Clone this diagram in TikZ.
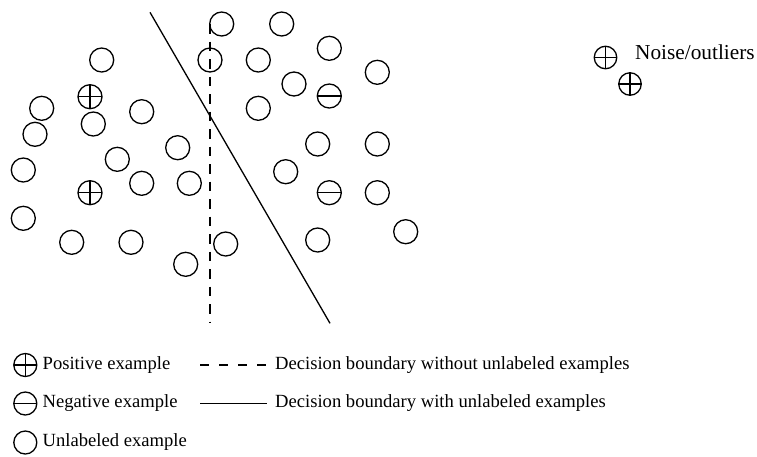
\documentclass[tikz,border=0pt]{standalone}
\usepackage{fontspec}
\setmainfont{Liberation Serif}
\begin{document}
\begin{tikzpicture}[x=1pt,y=-1pt,
  pt/.style={circle,draw,line width=1.3pt,minimum size=24pt,inner sep=0pt,outer sep=0pt},
  lg/.style={pt,minimum size=23pt},
  nz/.style={pt,minimum size=22.5pt},
  plusmark/.style={path picture={\draw[line width=1.3pt] (path picture bounding box.north)--(path picture bounding box.south) (path picture bounding box.west)--(path picture bounding box.east);}},
  minusmark/.style={path picture={\draw[line width=1.3pt] (path picture bounding box.west)--(path picture bounding box.east);}},
  lbl/.style={anchor=west,inner sep=0pt,font=\fontsize{18.6}{22}\selectfont},
  bnd/.style={line width=1.3pt},
  dbnd/.style={line width=1.3pt,dash pattern=on 9.5pt off 8pt},
  ldbnd/.style={line width=1.3pt,dash pattern=on 9pt off 10pt}]
\useasboundingbox (0,0) rectangle (757,456);
% unlabeled examples
\foreach [count=\i] \p in {(101.7,60),(41.7,108.3),(93.3,124),(141.7,111.7),(35,134.3),(177.7,147.7),(117.3,159.3),(23.3,170),(141.7,183.3),(189.3,183.3),(23.3,218.3),(71.7,242.3),(131,242.3),(185.7,264.3),(221.7,24),(281.7,24),(329.3,48.3),(210,60),(258.3,60),(377.3,72.3),(294,84),(258.3,108.3),(317.7,144),(377.3,144),(285.7,171.7),(377.3,192.7),(405.7,231.7),(317.7,240),(225.7,244)}
  \node[pt] (u\i) at \p {};
% positive examples
\node[pt,plusmark] (p1) at (90,96.7) {};
\node[pt,plusmark] (p2) at (90,192.7) {};
% negative examples
\node[pt,minusmark] (n1) at (329.3,96) {};
\node[pt,minusmark] (n2) at (329.3,192.7) {};
% noise
\node[nz,plusmark] (o1) at (605.5,57.5) {};
\node[nz,plusmark] (o2) at (630,84) {};
\node[lbl,font=\fontsize{21.3}{25}\selectfont] (ot) at (635,52.5) {Noise/outliers};
% boundaries
\coordinate (s1) at (150,12.3);
\coordinate (s2) at (330,323.3);
\draw[bnd] (s1) -- (s2);
\coordinate (d1) at (210,24);
\coordinate (d2) at (210,322);
\draw[dbnd] (d1) -- (d2);
% legend
\node[lg,plusmark] (lp) at (25.3,365) {};
\node[lbl] (lpt) at (42.5,365) {Positive example};
\node[lg,minusmark] (ln) at (25.3,403.5) {};
\node[lbl] (lnt) at (42.5,403.5) {Negative example};
\node[lg] (lu) at (25.3,442.5) {};
\node[lbl] (lut) at (42.5,442.5) {Unlabeled example};
\coordinate (ld1) at (200.3,365);
\coordinate (ld2) at (266.5,365);
\draw[ldbnd] (ld1) -- (ld2);
\node[lbl] (ldt) at (275,365) {Decision boundary without unlabeled examples};
\coordinate (ls1) at (200.3,403.5);
\coordinate (ls2) at (267,403.5);
\draw[bnd] (ls1) -- (ls2);
\node[lbl] (lst) at (275,403.5) {Decision boundary with unlabeled examples};
\end{tikzpicture}
\end{document}
